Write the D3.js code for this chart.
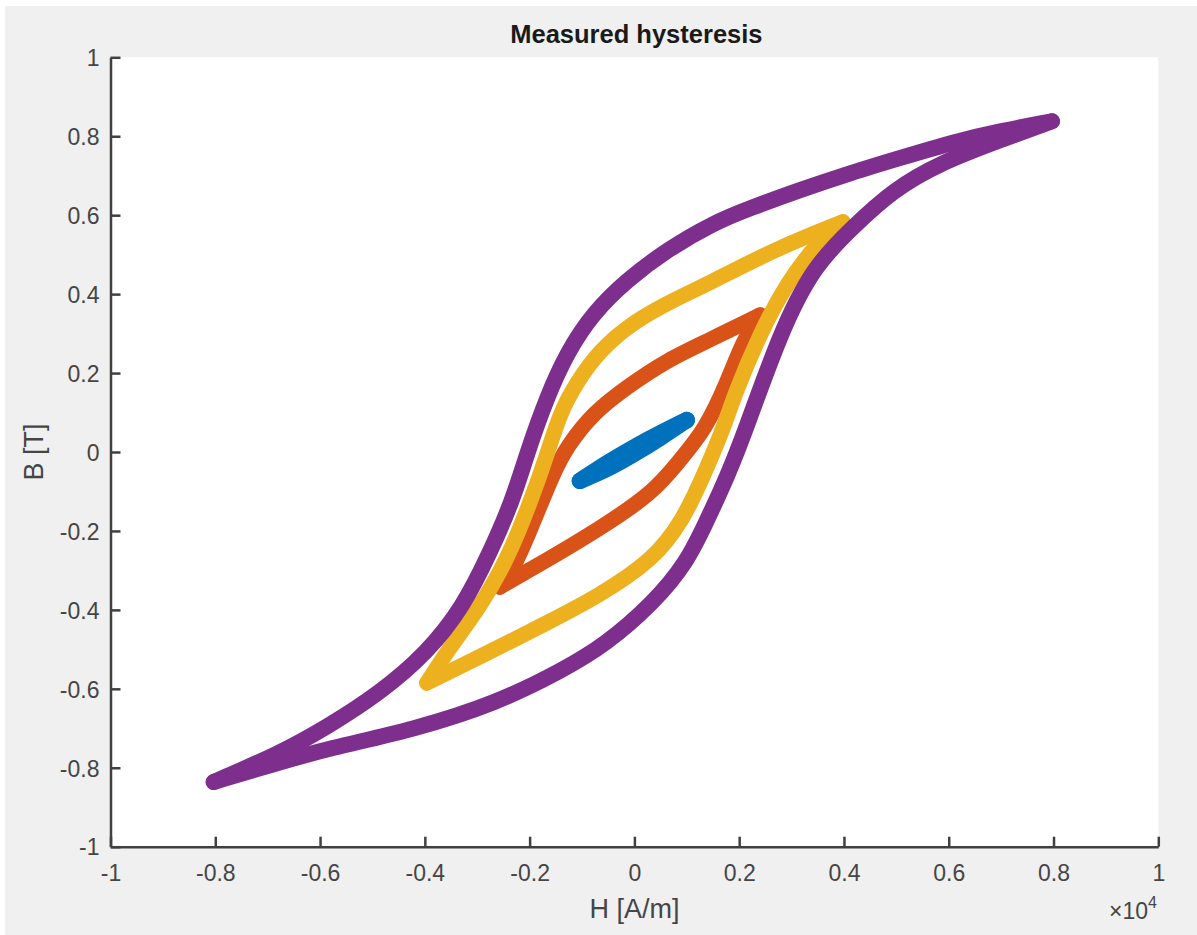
<!DOCTYPE html>
<html>
<head>
<meta charset="utf-8">
<script src="https://cdn.jsdelivr.net/npm/d3@7"></script>
<style>
  html, body { margin: 0; padding: 0; background: #ffffff; }
  svg { display: block; }
  text { font-family: "Liberation Sans", Arial, Helvetica, sans-serif; }
</style>
</head>
<body>
<svg id="chart" width="1197" height="935"></svg>
<script>
// Axis ticks (H axis is labelled in units of 10^4 A/m)
const hTicks = [-1, -0.8, -0.6, -0.4, -0.2, 0, 0.2, 0.4, 0.6, 0.8, 1];
const hTickLabels = ["-1", "-0.8", "-0.6", "-0.4", "-0.2", "0", "0.2", "0.4", "0.6", "0.8", "1"];
const bTicks = [-1, -0.8, -0.6, -0.4, -0.2, 0, 0.2, 0.4, 0.6, 0.8, 1];
const bTickLabels = ["-1", "-0.8", "-0.6", "-0.4", "-0.2", "0", "0.2", "0.4", "0.6", "0.8", "1"];

// Peak field of each measured loop [A/m]
const amplitudes = [1000, 2500, 4000, 8000];

// Loop at 1000 A/m: descending branch (from +Hmax) and ascending branch (from -Hmax)
const h1000Down = [1000, 500, 0, -500, -1040];
const b1000Down = [0.081, 0.048, 0.013, -0.026, -0.073];
const h1000Up = [-1040, -500, 0, 500, 1000];
const b1000Up = [-0.073, -0.043, -0.005, 0.036, 0.081];

// Loop at 2500 A/m
const h2500Down = [2400, 1440, 620, -140, -790, -1290, -1550, -1990, -2320, -2570];
const b2500Down = [0.347, 0.284, 0.233, 0.165, 0.099, 0.013, -0.053, -0.198, -0.299, -0.342];
const h2500Up = [-2570, -1670, -710, 360, 870, 1350, 1770, 2080, 2400];
const b2500Up = [-0.342, -0.274, -0.198, -0.104, -0.020, 0.056, 0.175, 0.284, 0.347];

// Loop at 4000 A/m
const h4000Down = [3980, 2650, 1440, 740, -30, -660, -1100, -1420, -1670, -1990, -2430, -2950, -3520, -3960];
const b4000Down = [0.583, 0.512, 0.428, 0.385, 0.329, 0.258, 0.177, 0.099, -0.008, -0.129, -0.274, -0.393, -0.494, -0.585];
const h4000Up = [-3960, -2950, -1670, -710, 360, 930, 1310, 1690, 1920, 2400, 2910, 3490, 3980];
const b4000Up = [-0.585, -0.519, -0.433, -0.367, -0.274, -0.172, -0.063, 0.056, 0.149, 0.301, 0.428, 0.530, 0.583];

// Loop at 8000 A/m
const h8000Down = [7970, 6980, 6160, 5070, 4120, 3160, 2210, 1500, 620, -140, -790, -1290, -1670, -2050, -2320, -2760, -3270, -3960, -4860, -5870, -6760, -8030];
const b8000Down = [0.838, 0.813, 0.788, 0.745, 0.707, 0.664, 0.618, 0.580, 0.512, 0.436, 0.352, 0.251, 0.139, -0.003, -0.122, -0.256, -0.393, -0.509, -0.611, -0.697, -0.763, -0.836];
const h8000Up = [-8030, -6950, -5810, -4230, -2620, -1360, -560, 360, 1000, 1390, 1770, 2110, 2780, 3410, 4170, 4940, 5830, 6980, 7970];
const b8000Up = [-0.836, -0.793, -0.750, -0.704, -0.636, -0.552, -0.489, -0.383, -0.281, -0.172, -0.063, 0.051, 0.301, 0.469, 0.570, 0.664, 0.732, 0.790, 0.838];

// Plot styling
const loopColors = ["#0072BD", "#D95319", "#EDB120", "#7E2F8E"];
const loopWidths = [16.5, 15.5, 15.5, 16];
const W = 1197, H = 935;
const plot = { left: 110.5, right: 1158.3, top: 57.3, bottom: 846.7 };
const axisColor = "#404040";
const textColor = "#454545";

const zip = (hs, bs) => hs.map((h, i) => ({ h, b: bs[i] }));
const loops = [
  { amp: amplitudes[0], down: zip(h1000Down, b1000Down), up: zip(h1000Up, b1000Up) },
  { amp: amplitudes[1], down: zip(h2500Down, b2500Down), up: zip(h2500Up, b2500Up) },
  { amp: amplitudes[2], down: zip(h4000Down, b4000Down), up: zip(h4000Up, b4000Up) },
  { amp: amplitudes[3], down: zip(h8000Down, b8000Down), up: zip(h8000Up, b8000Up) }
];

const svg = d3.select("#chart");

// figure background
svg.append("rect").attr("x", 5).attr("y", 6).attr("width", W - 5).attr("height", H - 6).attr("fill", "#f0f0f0");

const x = d3.scaleLinear().domain([-10000, 10000]).range([plot.left, plot.right]);
const y = d3.scaleLinear().domain([-1, 1]).range([plot.bottom, plot.top]);

// axes area
svg.append("rect")
  .attr("x", plot.left).attr("y", plot.top)
  .attr("width", plot.right - plot.left).attr("height", plot.bottom - plot.top)
  .attr("fill", "#ffffff");

// hysteresis loops, each branch smoothed with a B-spline through the samples
const gLoops = svg.append("g");
const line = d3.line()
  .x(d => x(d.h))
  .y(d => y(d.b))
  .curve(d3.curveBasis);

loops.forEach((loop, i) => {
  const g = gLoops.append("g").attr("class", "loop-" + loop.amp);
  [loop.down, loop.up].forEach(branch => {
    g.append("path")
      .attr("d", line(branch))
      .attr("fill", "none")
      .attr("stroke", loopColors[i])
      .attr("stroke-width", loopWidths[i])
      .attr("stroke-linecap", "round")
      .attr("stroke-linejoin", "round");
  });
});

// x axis
const xAxis = d3.axisBottom(x)
  .tickValues(hTicks.map(t => t * 1e4))
  .tickFormat((d, i) => hTickLabels[i])
  .tickSizeInner(-10)
  .tickSizeOuter(0)
  .tickPadding(17.5);
const gx = svg.append("g").attr("transform", `translate(0,${plot.bottom})`).call(xAxis);

// y axis
const yAxis = d3.axisLeft(y)
  .tickValues(bTicks)
  .tickFormat((d, i) => bTickLabels[i])
  .tickSizeInner(-10)
  .tickSizeOuter(0)
  .tickPadding(11);
const gy = svg.append("g").attr("transform", `translate(${plot.left},0)`).call(yAxis);

[gx, gy].forEach(g => {
  g.select(".domain").attr("stroke", axisColor).attr("stroke-width", 2.5);
  g.selectAll(".tick line").attr("stroke", axisColor).attr("stroke-width", 2.5);
  g.selectAll(".tick text")
    .attr("fill", textColor)
    .style("font-size", "23px")
    .style("font-family", "'Liberation Sans', Arial, sans-serif");
});
gy.selectAll(".tick text").attr("dy", "0.36em");

// exponent marker for the H axis
const expo = svg.append("text")
  .attr("x", 1157).attr("y", 919)
  .attr("text-anchor", "end")
  .attr("fill", textColor)
  .style("font-size", "23px");
expo.append("tspan").text("\u00d710");
expo.append("tspan").attr("dy", -11).style("font-size", "16px").text("4");

// axis labels
svg.append("text")
  .attr("x", (plot.left + plot.right) / 2).attr("y", 917.5)
  .attr("text-anchor", "middle")
  .attr("fill", textColor)
  .style("font-size", "27px")
  .text("H [A/m]");

svg.append("text")
  .attr("transform", `translate(43.3,${(plot.top + plot.bottom) / 2}) rotate(-90)`)
  .attr("text-anchor", "middle")
  .attr("fill", textColor)
  .style("font-size", "27px")
  .text("B [T]");

// title
svg.append("text")
  .attr("x", (plot.left + plot.right) / 2 + 2).attr("y", 43.3)
  .attr("text-anchor", "middle")
  .attr("fill", "#1a1a1a")
  .style("font-size", "25.5px")
  .style("font-weight", "bold")
  .text("Measured hysteresis");
</script>
</body>
</html>
